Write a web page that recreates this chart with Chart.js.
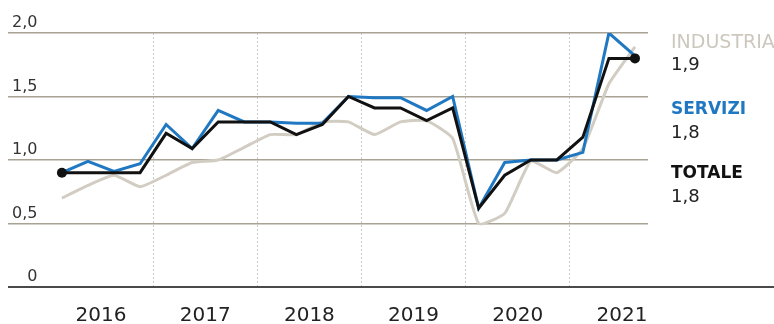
<!DOCTYPE html>
<html>
<head>
<meta charset="utf-8">
<script src="https://cdn.jsdelivr.net/npm/chart.js@4.4.1/dist/chart.umd.min.js"></script>
<style>
    html, body { margin: 0; padding: 0; background: #fff; }
    #wrap { position: relative; width: 774px; height: 324px; overflow: hidden; font-family: 'DejaVu Sans', sans-serif; }
    #wrap canvas { position: absolute; left: 0; top: 0; }
    .lab { position: absolute; left: 671px; line-height: 1; white-space: nowrap; }
</style>
</head>
<body>
<div id="wrap">
    <canvas id="myChart" width="774" height="345"></canvas>
    <div class="lab" style="top:32px;font-size:19px;color:#cdc8bd;">INDUSTRIA</div>
    <div class="lab" style="top:55px;font-size:18px;color:#222;">1,9</div>
    <div class="lab" style="top:100px;font-size:17px;font-weight:bold;color:#1f78c1;">SERVIZI</div>
    <div class="lab" style="top:123px;font-size:18px;color:#222;">1,8</div>
    <div class="lab" style="top:164px;font-size:17px;font-weight:bold;color:#111;">TOTALE</div>
    <div class="lab" style="top:187px;font-size:18px;color:#222;">1,8</div>
</div>
<script>
// trimestri dal 2016 T1 al 2021 T3
const years = ['2016', '2017', '2018', '2019', '2020', '2021'];
const quarters = ['16T1','16T2','16T3','16T4','17T1','17T2','17T3','17T4','18T1','18T2','18T3','18T4',
    '19T1','19T2','19T3','19T4','20T1','20T2','20T3','20T4','21T1','21T2','21T3'];
const totale = [0.9, 0.9, 0.9, 0.9, 1.21, 1.09, 1.3, 1.3, 1.3, 1.2, 1.28, 1.5,
    1.41, 1.41, 1.31, 1.41, 0.62, 0.88, 1.0, 1.0, 1.18, 1.8, 1.8];
const servizi = [0.9, 0.99, 0.91, 0.97, 1.28, 1.09, 1.39, 1.3, 1.3, 1.29, 1.29, 1.5,
    1.49, 1.49, 1.39, 1.5, 0.62, 0.98, 1.0, 1.0, 1.06, 2.0, 1.82];
const industria = [0.7, 0.8, 0.88, 0.79, 0.88, 0.98, 1.0, 1.1, 1.2, 1.2, 1.3, 1.3,
    1.2, 1.3, 1.31, 1.17, 0.5, 0.58, 0.99, 0.9, 1.09, 1.6, 1.89];
const yTicks = [0, 0.5, 1, 1.5, 2];

function toPoints(arr) {
    return arr.map((v, i) => ({ x: i, y: v }));
}

const last = quarters.length - 1;

// linea di base a 0, prolungata fino al bordo destro
const baseLine = {
    id: 'baseLine',
    afterDatasetsDraw(chart) {
        const ctx = chart.ctx;
        const y = chart.scales.y.getPixelForValue(0);
        ctx.save();
        ctx.strokeStyle = '#4a4a4a';
        ctx.lineWidth = 2;
        ctx.beginPath();
        ctx.moveTo(chart.chartArea.left, y);
        ctx.lineTo(chart.width, y);
        ctx.stroke();
        ctx.restore();
    }
};

Chart.defaults.font.family = "'DejaVu Sans', sans-serif";

const myChart = new Chart(document.getElementById('myChart'), {
    type: 'line',
    data: {
        datasets: [{
            label: 'TOTALE',
            data: toPoints(totale),
            borderColor: '#111111',
            backgroundColor: '#111111',
            borderWidth: 3,
            borderJoinStyle: 'miter',
            pointRadius: c => (c.dataIndex === 0 || c.dataIndex === last) ? 5 : 0,
            pointBorderWidth: 0,
            tension: 0
        }, {
            label: 'SERVIZI',
            data: toPoints(servizi),
            borderColor: '#1f78c1',
            borderWidth: 3,
            borderJoinStyle: 'miter',
            pointRadius: 0,
            tension: 0
        }, {
            label: 'INDUSTRIA',
            data: toPoints(industria),
            borderColor: '#d2cdc2',
            borderWidth: 3,
            pointRadius: 0,
            tension: 0.15
        }]
    },
    options: {
        responsive: false,
        animation: false,
        layout: { padding: { left: 0, right: 126, top: 33, bottom: 0 } },
        plugins: {
            legend: { display: false },
            tooltip: { enabled: false }
        },
        scales: {
            x: {
                type: 'linear',
                min: -2.07,
                max: 22.5,
                afterBuildTicks: s => { s.ticks = years.map((y, i) => ({ value: 1.5 + i * 4 })); },
                ticks: {
                    callback: (v, i) => years[i],
                    font: { size: 20 },
                    color: '#222',
                    padding: 17,
                    maxRotation: 0,
                    autoSkip: false
                },
                grid: { display: false, drawTicks: false },
                border: { display: false }
            },
            xg: {
                type: 'linear',
                position: 'top',
                min: -2.07,
                max: 22.5,
                afterBuildTicks: s => { s.ticks = [3.5, 7.5, 11.5, 15.5, 19.5].map(v => ({ value: v })); },
                ticks: { display: false },
                grid: { color: '#c9c9c9', lineWidth: 1, drawTicks: false, tickBorderDash: [2, 2] },
                border: { display: false, dash: [2, 2] }
            },
            y: {
                min: 0,
                max: 2,
                afterBuildTicks: s => { s.ticks = yTicks.map(v => ({ value: v })); },
                ticks: {
                    mirror: true,
                    crossAlign: 'far',
                    padding: 4,
                    labelOffset: -10,
                    font: { size: 16 },
                    color: '#333',
                    callback: v => v === 0 ? '0' : v.toFixed(1).replace('.', ',')
                },
                grid: {
                    color: c => c.tick && c.tick.value === 0 ? 'rgba(0,0,0,0)' : '#a8a295',
                    lineWidth: 1.5,
                    drawTicks: false
                },
                border: { display: false }
            }
        }
    },
    plugins: [baseLine]
});
</script>
</body>
</html>
